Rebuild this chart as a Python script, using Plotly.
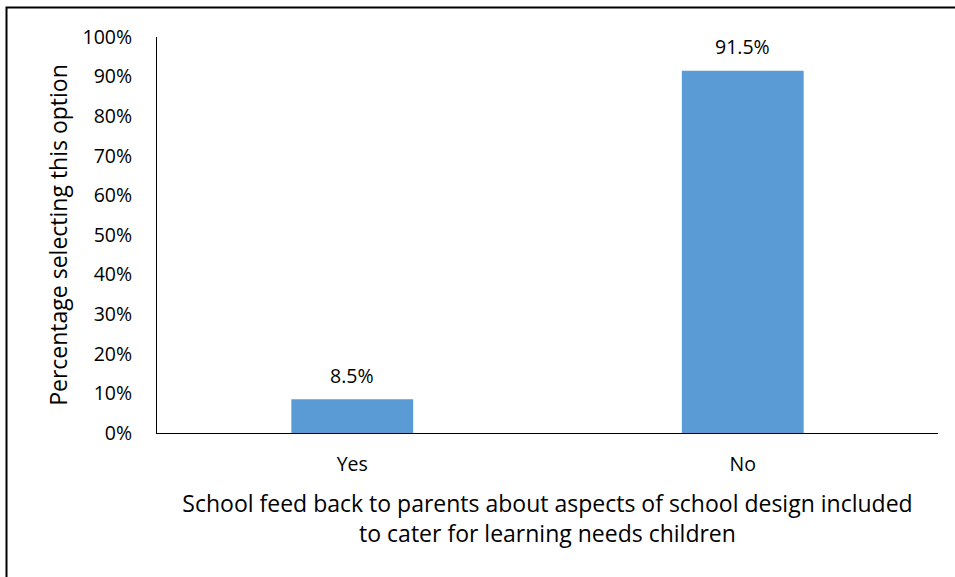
import plotly.graph_objects as go

categories = ["Yes", "No"]
values = [8.5, 91.5]
y_ticks = [0, 10, 20, 30, 40, 50, 60, 70, 80, 90, 100]
y_tick_labels = [f"{v}%" for v in y_ticks]
x_title = "School feed back to parents about aspects of school design included<br>to cater for learning needs children"
y_title = "Percentage selecting this option"

FONT = "Open Sans"
L, R, T, B = 157, 17, 37, 144
W, H = 955, 577

fig = go.Figure(go.Bar(
    x=categories, y=values,
    marker=dict(color="#5B9BD5", line=dict(width=0)),
    width=0.312,
))

for c, v in zip(categories, values):
    fig.add_annotation(x=c, y=v, text=f"{v}%", showarrow=False, yshift=24,
                       font=dict(family=FONT, size=19.5, color="#000000"))

pw = W - L - R
ph = H - T - B
fig.add_shape(type="rect", xref="paper", yref="paper",
              x0=(6.5 - L) / pw, x1=(W + 20 - L) / pw,
              y0=-(H + 20 - T - ph) / ph, y1=(H - B - 7.5) / ph,
              line=dict(color="black", width=2), fillcolor="rgba(0,0,0,0)")

fig.update_layout(
    width=W, height=H,
    margin=dict(l=L, r=R, t=T, b=B),
    plot_bgcolor="white", paper_bgcolor="white",
    showlegend=False,
    font=dict(family=FONT, size=19.5, color="#000000"),
    xaxis=dict(
        showline=True, linecolor="#000000", linewidth=1,
        showgrid=False, ticks="outside", ticklen=14, tickcolor="rgba(0,0,0,0)",
        tickfont=dict(size=19.5),
        title=dict(text=x_title, font=dict(size=23), standoff=19),
    ),
    yaxis=dict(
        range=[0, 100], tickvals=y_ticks, ticktext=y_tick_labels,
        showline=True, linecolor="#000000", linewidth=1,
        showgrid=False, ticks="outside", ticklen=20, tickcolor="rgba(0,0,0,0)",
        zeroline=False, tickfont=dict(size=19.5),
        title=dict(text=y_title, font=dict(size=23), standoff=8),
    ),
)

fig.write_html("out.html")
